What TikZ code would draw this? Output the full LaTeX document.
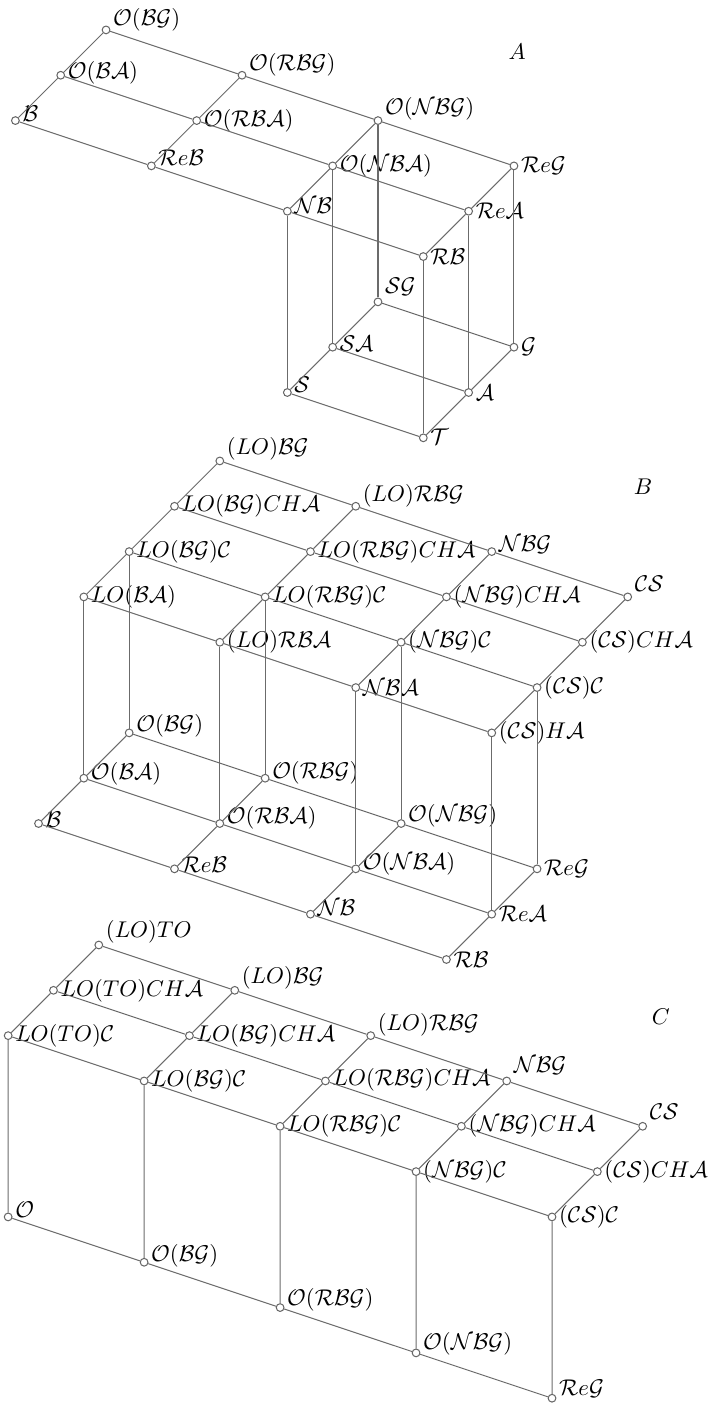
\documentclass[tikz,border=0pt]{standalone}
\usepackage{amsmath}
\tikzset{
  vtx/.style={circle,draw=black!60,fill=white,minimum size=3.4pt,inner sep=0pt,line width=0.45pt},
  edge/.style={draw=black!58,line width=0.45pt},
  lbl/.style={inner sep=1pt},
}

\begin{document}
\begin{tikzpicture}[x=0.7cm,y=0.7cm]
  \useasboundingbox (0,0) rectangle (15.73,-31.0);
  % lattice A: top plane 4x3, bottom plane 2x3
  \begin{scope}[shift={(2.34,-0.66)},x={(2.1cm,-0.7cm)},y={(-0.7cm,-0.7cm)},z={(0cm,2.8cm)}]
    \foreach \i/\j/\dy/\lab in {0/0/4.5/{\mathcal{O}(\mathcal{B}\mathcal{G})},0/1/1/{\mathcal{O}(\mathcal{B}\mathcal{A})},
        0/2/3/{\mathcal{B}},1/0/4.5/{\mathcal{O}(\mathcal{R}\mathcal{B}\mathcal{G})},1/1/0/{\mathcal{O}(\mathcal{R}\mathcal{B}\mathcal{A})},
        1/2/3.5/{\mathcal{R}e\mathcal{B}},2/0/5/{\mathcal{O}(\mathcal{N}\mathcal{B}\mathcal{G})},2/1/0/{\mathcal{O}(\mathcal{N}\mathcal{B}\mathcal{A})},
        2/2/2.5/{\mathcal{N}\mathcal{B}},3/0/0/{\mathcal{R}e\mathcal{G}},3/1/0/{\mathcal{R}e\mathcal{A}},3/2/0/{\mathcal{R}\mathcal{B}}}
      \node[vtx,label={[lbl,yshift=\dy pt]right:$\lab$}] (at\i\j) at (\i,\j,0){};
    \foreach \i/\j/\dy/\lab in {2/0/6.5/{\mathcal{S}\mathcal{G}},2/1/1.5/{\mathcal{S}\mathcal{A}},2/2/3.5/{\mathcal{S}},
        3/0/0/{\mathcal{G}},3/1/0/{\mathcal{A}},3/2/0.5/{\mathcal{T}}}
      \node[vtx,label={[lbl,yshift=\dy pt]right:$\lab$}] (ab\i\j) at (\i,\j,-1){};
    \foreach \i in {0,...,3}{\draw[edge] (at\i0)--(at\i1)--(at\i2);}
    \foreach \j in {0,1,2}{\draw[edge] (at0\j)--(at1\j)--(at2\j)--(at3\j);}
    \foreach \i in {2,3}{\draw[edge] (ab\i0)--(ab\i1)--(ab\i2);}
    \foreach \j in {0,1,2}{\draw[edge] (ab2\j)--(ab3\j); \draw[edge] (at2\j)--(ab2\j); \draw[edge] (at3\j)--(ab3\j);}
  \end{scope}
  \node (labA) at (11.41,-1.15) {$A$};

  % lattice B: top plane 4x4, bottom plane 4x3
  \begin{scope}[shift={(4.85,-10.17)},x={(2.1cm,-0.7cm)},y={(-0.7cm,-0.7cm)},z={(0cm,2.8cm)}]
    \foreach \i/\j/\dy/\lab in {0/0/5.5/{(LO)\mathcal{B}\mathcal{G}},0/1/0/{LO(\mathcal{B}\mathcal{G})CH\mathcal{A}},
        0/2/0/{LO(\mathcal{B}\mathcal{G})\mathcal{C}},0/3/0/{LO(\mathcal{B}\mathcal{A})},
        1/0/4.8/{(LO)\mathcal{R}\mathcal{B}\mathcal{G}},1/1/0/{LO(\mathcal{R}\mathcal{B}\mathcal{G})CH\mathcal{A}},
        1/2/0/{LO(\mathcal{R}\mathcal{B}\mathcal{G})\mathcal{C}},1/3/0/{(LO)\mathcal{R}\mathcal{B}\mathcal{A}},
        2/0/3/{\mathcal{N}\mathcal{B}\mathcal{G}},2/1/0/{(\mathcal{N}\mathcal{B}\mathcal{G})CH\mathcal{A}},
        2/2/0/{(\mathcal{N}\mathcal{B}\mathcal{G})\mathcal{C}},2/3/0/{\mathcal{N}\mathcal{B}\mathcal{A}},
        3/0/6/{\mathcal{C}\mathcal{S}},3/1/0/{(\mathcal{C}\mathcal{S})CH\mathcal{A}},
        3/2/0/{(\mathcal{C}\mathcal{S})\mathcal{C}},3/3/0/{(\mathcal{C}\mathcal{S})H\mathcal{A}}}
      \node[vtx,label={[lbl,yshift=\dy pt]right:$\lab$}] (bt\i\j) at (\i,\j,0){};
    \foreach \i/\j/\dy/\lab in {0/2/3/{\mathcal{O}(\mathcal{B}\mathcal{G})},0/3/2/{\mathcal{O}(\mathcal{B}\mathcal{A})},0/4/1.8/{\mathcal{B}},
        1/2/2.4/{\mathcal{O}(\mathcal{R}\mathcal{B}\mathcal{G})},1/3/2.4/{\mathcal{O}(\mathcal{R}\mathcal{B}\mathcal{A})},1/4/1.8/{\mathcal{R}e\mathcal{B}},
        2/2/3.5/{\mathcal{O}(\mathcal{N}\mathcal{B}\mathcal{G})},2/3/2.2/{\mathcal{O}(\mathcal{N}\mathcal{B}\mathcal{A})},2/4/2.9/{\mathcal{N}\mathcal{B}},
        3/2/0/{\mathcal{R}e\mathcal{G}},3/3/0/{\mathcal{R}e\mathcal{A}},3/4/0/{\mathcal{R}\mathcal{B}}}
      \node[vtx,label={[lbl,yshift=\dy pt]right:$\lab$}] (bb\i\j) at (\i,\j,-1){};
    \foreach \i in {0,...,3}{\draw[edge] (bt\i0)--(bt\i1)--(bt\i2)--(bt\i3);}
    \foreach \j in {0,...,3}{\draw[edge] (bt0\j)--(bt1\j)--(bt2\j)--(bt3\j);}
    \foreach \i in {0,...,3}{\draw[edge] (bb\i2)--(bb\i3)--(bb\i4); \draw[edge] (bt\i2)--(bb\i2); \draw[edge] (bt\i3)--(bb\i3);}
    \foreach \j in {2,3,4}{\draw[edge] (bb0\j)--(bb1\j)--(bb2\j)--(bb3\j);}
  \end{scope}
  \node (labB) at (14.19,-10.74) {$B$};

  % lattice C: top plane 5x3, one bottom row
  \begin{scope}[shift={(2.18,-20.85)},x={(2.1cm,-0.7cm)},y={(-0.7cm,-0.7cm)},z={(0cm,2.8cm)}]
    \foreach \i/\j/\dy/\lab in {0/0/6/{(LO)TO},0/1/0/{LO(TO)CH\mathcal{A}},0/2/0/{LO(TO)\mathcal{C}},
        1/0/5.3/{(LO)\mathcal{B}\mathcal{G}},1/1/0/{LO(\mathcal{B}\mathcal{G})CH\mathcal{A}},1/2/0/{LO(\mathcal{B}\mathcal{G})\mathcal{C}},
        2/0/4.8/{(LO)\mathcal{R}\mathcal{B}\mathcal{G}},2/1/0.5/{LO(\mathcal{R}\mathcal{B}\mathcal{G})CH\mathcal{A}},2/2/0/{LO(\mathcal{R}\mathcal{B}\mathcal{G})\mathcal{C}},
        3/0/6.5/{\mathcal{N}\mathcal{B}\mathcal{G}},3/1/0/{(\mathcal{N}\mathcal{B}\mathcal{G})CH\mathcal{A}},3/2/0/{(\mathcal{N}\mathcal{B}\mathcal{G})\mathcal{C}},
        4/0/6.4/{\mathcal{C}\mathcal{S}},4/1/0/{(\mathcal{C}\mathcal{S})CH\mathcal{A}},4/2/0/{(\mathcal{C}\mathcal{S})\mathcal{C}}}
      \node[vtx,label={[lbl,yshift=\dy pt]right:$\lab$}] (ct\i\j) at (\i,\j,0){};
    \foreach \i/\dy/\lab in {0/3.3/{\mathcal{O}},1/3/{\mathcal{O}(\mathcal{B}\mathcal{G})},2/3.5/{\mathcal{O}(\mathcal{R}\mathcal{B}\mathcal{G})},
        3/4/{\mathcal{O}(\mathcal{N}\mathcal{B}\mathcal{G})},4/4/{\mathcal{R}e\mathcal{G}}}
      \node[vtx,label={[lbl,yshift=\dy pt]right:$\lab$}] (cb\i) at (\i,2,-1){};
    \foreach \i in {0,...,4}{\draw[edge] (ct\i0)--(ct\i1)--(ct\i2)--(cb\i);}
    \foreach \j in {0,1,2}{\draw[edge] (ct0\j)--(ct1\j)--(ct2\j)--(ct3\j)--(ct4\j);}
    \draw[edge] (cb0)--(cb1)--(cb2)--(cb3)--(cb4);
  \end{scope}
  \node (labC) at (14.58,-22.44) {$C$};
\end{tikzpicture}
\end{document}
